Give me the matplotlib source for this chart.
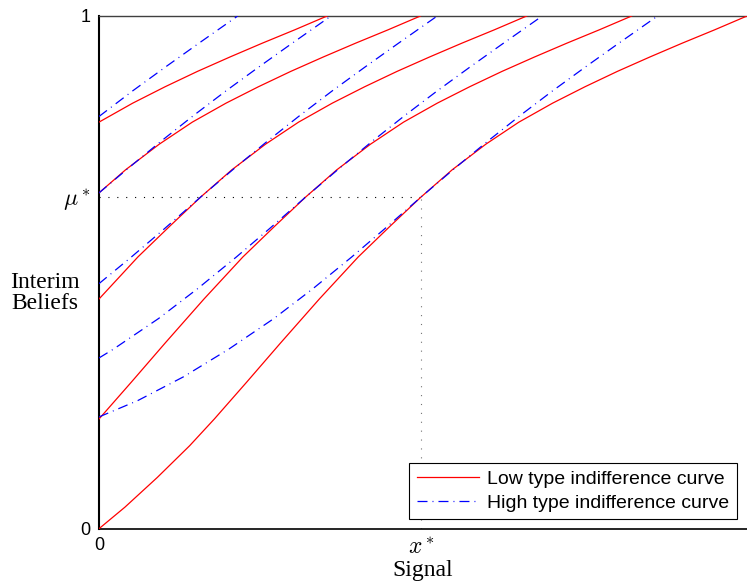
import matplotlib
matplotlib.use("Agg")
import matplotlib.pyplot as plt

plt.rcParams['mathtext.fontset'] = 'cm'
plt.rcParams['lines.scale_dashes'] = False

# ---- data ----
x_star = 0.497
mu_star = 0.647

# Low type indifference curves (red)
low1_x = [0, 0.04, 0.09, 0.14, 0.178, 0.228, 0.28, 0.34, 0.40, 0.45, 0.497, 0.545, 0.597, 0.648, 0.70, 0.75, 0.80, 0.85, 0.90, 0.95, 1.0]
low1_y = [0, 0.042, 0.100, 0.162, 0.214, 0.286, 0.362, 0.448, 0.530, 0.591, 0.647, 0.700, 0.750, 0.793, 0.830, 0.862, 0.892, 0.920, 0.947, 0.973, 1.0]
low2_x = [0, 0.05, 0.102, 0.162, 0.222, 0.272, 0.319, 0.367, 0.419, 0.47, 0.522, 0.572, 0.622, 0.672, 0.722, 0.772, 0.822]
low2_y = [0.214, 0.286, 0.362, 0.448, 0.530, 0.591, 0.647, 0.700, 0.750, 0.793, 0.830, 0.862, 0.892, 0.920, 0.947, 0.973, 1.0]
low3_x = [0, 0.06, 0.11, 0.157, 0.205, 0.257, 0.308, 0.36, 0.41, 0.46, 0.51, 0.56, 0.61, 0.66]
low3_y = [0.448, 0.530, 0.591, 0.647, 0.700, 0.750, 0.793, 0.830, 0.862, 0.892, 0.920, 0.947, 0.973, 1.0]
low4_x = [0, 0.041, 0.093, 0.144, 0.196, 0.246, 0.296, 0.346, 0.396, 0.446, 0.496]
low4_y = [0.655, 0.700, 0.750, 0.793, 0.830, 0.862, 0.892, 0.920, 0.947, 0.973, 1.0]
low5_x = [0, 0.052, 0.102, 0.152, 0.202, 0.252, 0.302, 0.352]
low5_y = [0.793, 0.830, 0.862, 0.892, 0.920, 0.947, 0.973, 1.0]

# High type indifference curves (blue)
high1_x = [0, 0.06, 0.13, 0.20, 0.27, 0.33, 0.39, 0.44, 0.497, 0.55, 0.60, 0.65, 0.70, 0.75, 0.80, 0.862]
high1_y = [0.218, 0.250, 0.296, 0.350, 0.410, 0.468, 0.530, 0.584, 0.647, 0.704, 0.756, 0.806, 0.854, 0.900, 0.945, 1.0]
high2_x = [0, 0.022, 0.092, 0.152, 0.212, 0.262, 0.319, 0.372, 0.422, 0.472, 0.522, 0.572, 0.622, 0.684]
high2_y = [0.333, 0.350, 0.410, 0.468, 0.530, 0.584, 0.647, 0.704, 0.756, 0.806, 0.854, 0.900, 0.945, 1.0]
high3_x = [0, 0.05, 0.10, 0.157, 0.21, 0.26, 0.31, 0.36, 0.41, 0.46, 0.522]
high3_y = [0.478, 0.530, 0.584, 0.647, 0.704, 0.756, 0.806, 0.854, 0.900, 0.945, 1.0]
high4_x = [0, 0.046, 0.096, 0.146, 0.196, 0.246, 0.296, 0.358]
high4_y = [0.655, 0.704, 0.756, 0.806, 0.854, 0.900, 0.945, 1.0]
high5_x = [0, 0.052, 0.102, 0.152, 0.214]
high5_y = [0.804, 0.854, 0.900, 0.945, 1.0]

low_curves = [(low1_x, low1_y), (low2_x, low2_y), (low3_x, low3_y), (low4_x, low4_y), (low5_x, low5_y)]
high_curves = [(high1_x, high1_y), (high2_x, high2_y), (high3_x, high3_y), (high4_x, high4_y), (high5_x, high5_y)]

xtick_vals = [0, x_star]
xtick_labels = ['0', r'$x^*$']
ytick_vals = [0, mu_star, 1]
ytick_labels = ['0', r'$\mu^*$', '1']

# ---- figure ----
W, H = 747, 583
fig = plt.figure(figsize=(W / 100, H / 100), dpi=100)
ax = fig.add_axes([99 / W, (H - 528.7) / H, 648 / W, 512.7 / H])

dash = (7.2, 3.6, 0.7, 3.6)
for i, (xs, ys) in enumerate(low_curves):
    ax.plot(xs, ys, color=(1, 0, 0), lw=0.9,
            label='Low type indifference curve' if i == 0 else None, zorder=3)
for i, (xs, ys) in enumerate(high_curves):
    ax.plot(xs, ys, color=(0, 0, 1), lw=0.9, linestyle=(0, dash),
            label='High type indifference curve' if i == 0 else None, zorder=4)

# dotted guide lines
ax.plot([0, x_star], [mu_star, mu_star], color='black', lw=0.8,
        linestyle=(0, (0.8, 5.6)), zorder=2)
ax.plot([x_star, x_star], [0, mu_star], color='0.45', lw=0.8,
        linestyle=(0, (0.8, 5.6)), zorder=2)

ax.set_xlim(0, 1)
ax.set_ylim(0, 1)
ax.set_xticks(xtick_vals)
ax.set_yticks(ytick_vals)
ax.tick_params(length=0)
ax.tick_params(axis='x', pad=6)
ax.tick_params(axis='y', pad=6)
ax.set_xticklabels(xtick_labels, family='Liberation Sans')
ax.set_yticklabels(ytick_labels, family='Liberation Sans')
for lab in ax.get_xticklabels() + ax.get_yticklabels():
    lab.set_fontsize(17 if '$' in lab.get_text() else 13)

ax.spines['right'].set_visible(False)
ax.spines['top'].set_color('0.25')
ax.spines['top'].set_linewidth(1.0)
ax.spines['left'].set_linewidth(1.5)
ax.spines['bottom'].set_linewidth(1.2)

ax.set_xlabel('Signal', fontsize=17, family='Liberation Serif', labelpad=1)
fig.text(45 / W, 1 - 293 / H, 'Interim\nBeliefs', ha='center', va='center',
         fontsize=17, family='Liberation Serif', linespacing=0.95)

leg = ax.legend(loc='lower right', bbox_to_anchor=(736.7 / W, (H - 519.3) / H),
                bbox_transform=fig.transFigure,
                prop={'family': 'Liberation Sans', 'size': 14},
                fancybox=False, framealpha=1, edgecolor='black',
                handlelength=3.2, handletextpad=0.4, borderpad=0.4,
                labelspacing=0.3, borderaxespad=0)
leg.get_frame().set_linewidth(0.8)

fig.savefig('out.png', dpi=100)
